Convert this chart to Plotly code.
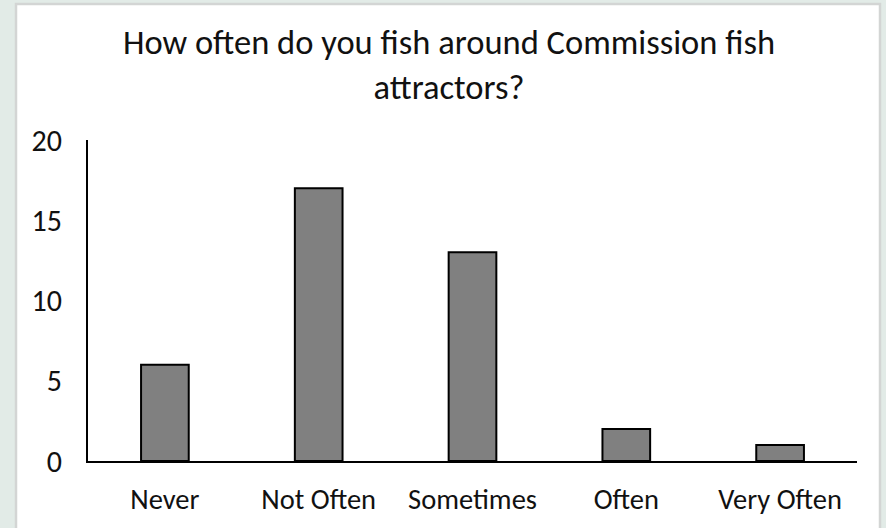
import plotly.graph_objects as go

categories = ["Never", "Not Often", "Sometimes", "Often", "Very Often"]
counts = [6, 17, 13, 2, 1]
y_ticks = [0, 5, 10, 15, 20]
title_text = "How often do you fish around Commission fish<br>attractors?"

FONT = "Carlito, Lato, 'Open Sans', sans-serif"

fig = go.Figure()
fig.add_trace(go.Bar(
    x=categories, y=counts,
    marker=dict(color="#808080", line=dict(color="#000000", width=2)),
    hoverinfo="x+y",
))

fig.update_layout(
    width=886, height=528,
    paper_bgcolor="#e2ebe7",
    plot_bgcolor="white",
    margin=dict(l=88, r=29, t=140, b=67, autoexpand=False),
    bargap=0.69,
    showlegend=False,
    font=dict(family=FONT, color="#111111", size=28),
    title=dict(
        text=title_text,
        x=449 / 886, xanchor="center", xref="container",
        y=1 - 54 / 528, yanchor="middle", yref="container",
        automargin=False,
        font=dict(family=FONT, size=34.5, color="#111111"),
    ),
    shapes=[dict(
        type="rect", xref="paper", yref="paper", layer="below",
        x0=-72 / 769, x1=(880 - 88) / 769,
        y0=-80 / 321, y1=(461 - 4) / 321,
        fillcolor="white", line=dict(color="#d3d5d4", width=2.5),
    )],
)
fig.update_xaxes(
    showline=True, linecolor="#000000", linewidth=2,
    showgrid=False, ticks="", ticklabelstandoff=12, automargin=False,
    tickfont=dict(family=FONT, size=28.5, color="#111111"),
)
fig.update_yaxes(
    range=[0, 20], tickvals=y_ticks,
    showline=True, linecolor="#000000", linewidth=2, automargin=False,
    showgrid=False, zeroline=False, ticks="", ticklabelstandoff=18,
    tickfont=dict(family=FONT, size=30, color="#111111"),
)

fig.write_html(
    "out.html",
    config={"displayModeBar": False},
    post_script="document.body.style.margin='0';document.body.style.overflow='hidden';",
)
